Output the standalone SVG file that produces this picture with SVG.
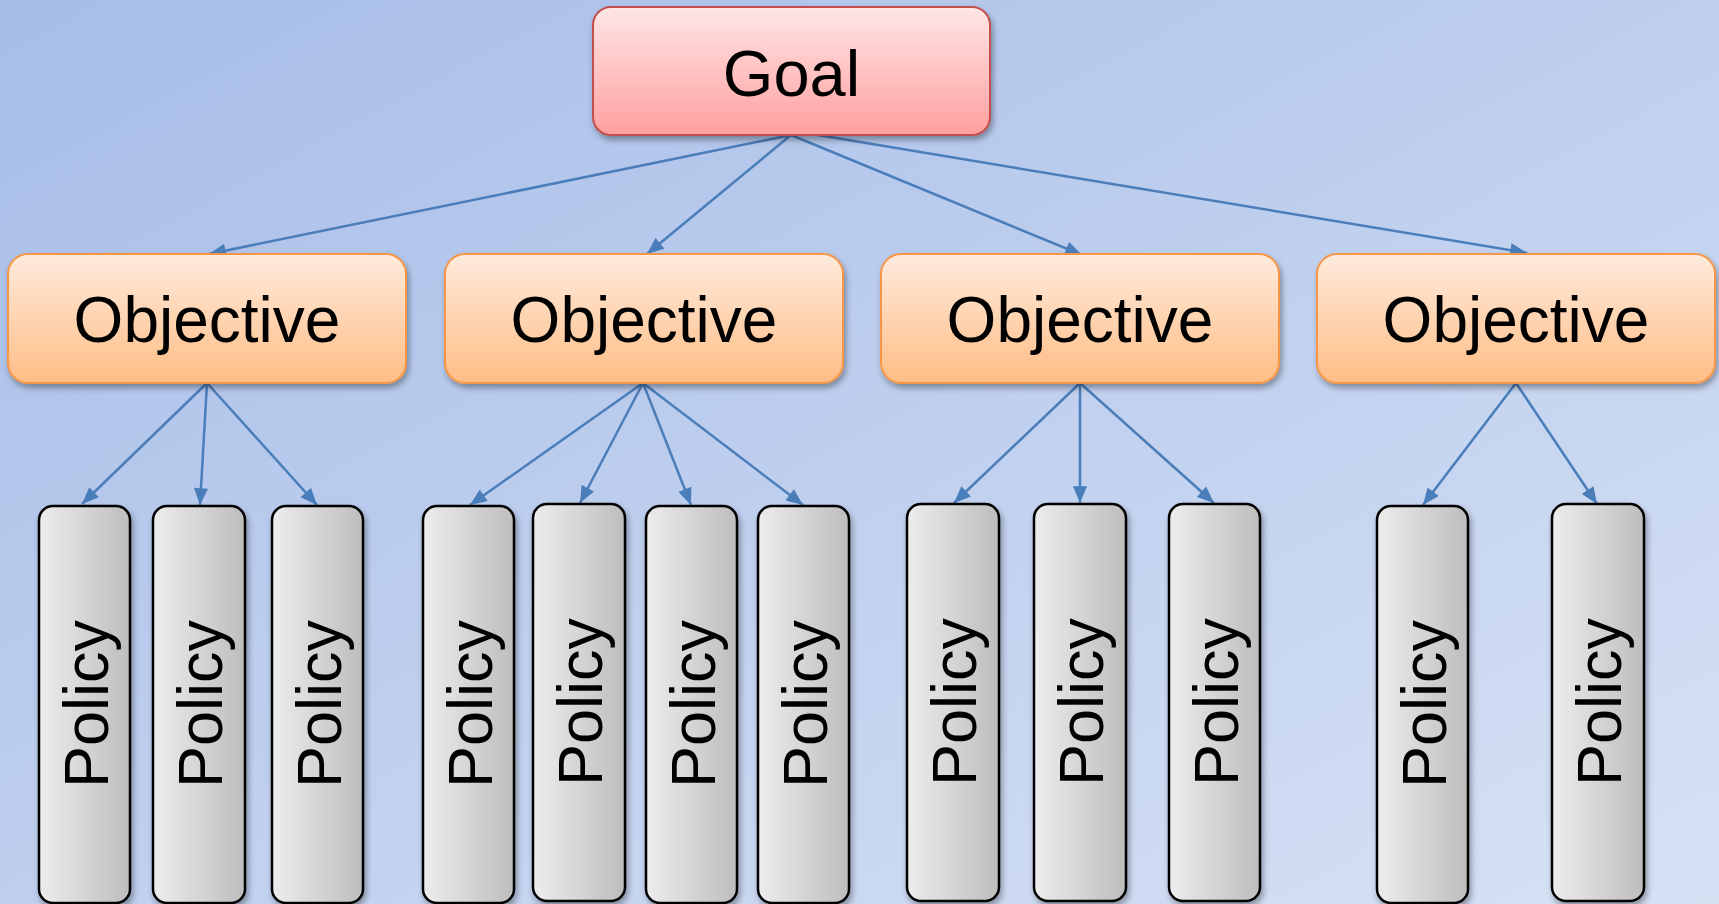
<svg xmlns="http://www.w3.org/2000/svg" width="1719" height="904" viewBox="0 0 1719 904">
<defs>
<linearGradient id="bg" x1="0" y1="0" x2="1" y2="1">
<stop offset="0" stop-color="#a7bde8"/>
<stop offset="1" stop-color="#d6e1f4"/>
</linearGradient>
<linearGradient id="gGoal" x1="0" y1="0" x2="0" y2="1">
<stop offset="0" stop-color="#ffe6e6"/>
<stop offset="1" stop-color="#ff9f9f"/>
</linearGradient>
<linearGradient id="gObj" x1="0" y1="0" x2="0" y2="1">
<stop offset="0" stop-color="#ffebdd"/>
<stop offset="1" stop-color="#ffbd85"/>
</linearGradient>
<linearGradient id="gPol" x1="0" y1="0" x2="1" y2="0">
<stop offset="0" stop-color="#ededed"/>
<stop offset="1" stop-color="#bdbdbd"/>
</linearGradient>
<filter id="sh" x="-10%" y="-10%" width="125%" height="130%">
<feGaussianBlur in="SourceAlpha" stdDeviation="3"/>
<feOffset dx="2" dy="4" result="b"/>
<feComponentTransfer><feFuncA type="linear" slope="0.35"/></feComponentTransfer>
<feMerge><feMergeNode/><feMergeNode in="SourceGraphic"/></feMerge>
</filter>
<marker id="ah" viewBox="0 0 12 10" refX="12" refY="5" markerWidth="18" markerHeight="14" markerUnits="userSpaceOnUse" orient="auto">
<path d="M0,0 L12,5 L0,10 z" fill="#4a7ebb"/>
</marker>
</defs>
<style>
.goal rect{fill:url(#gGoal);stroke:#c0504d;stroke-width:2}
.obj rect{fill:url(#gObj);stroke:#f79646;stroke-width:2}
.pol rect{fill:url(#gPol);stroke:#000;stroke-width:2.5}
text{font-family:"Liberation Sans",Arial,sans-serif;fill:#000;text-anchor:middle}
.big{font-size:65px}
.mid{font-size:64px}
.pt{font-size:63px}
.conn line{stroke:#4a7ebb;stroke-width:2.5;marker-end:url(#ah)}
</style>
<rect width="1719" height="904" fill="url(#bg)"/>

<g id="connectors" class="conn">
<line x1="791" y1="135" x2="209" y2="254"/>
<line x1="791" y1="135" x2="647" y2="254"/>
<line x1="791" y1="135" x2="1082" y2="255"/>
<line x1="806" y1="133" x2="1527" y2="253"/>
<line x1="207" y1="383" x2="82" y2="504"/>
<line x1="207" y1="383" x2="200" y2="505"/>
<line x1="207" y1="383" x2="317" y2="505"/>
<line x1="643" y1="383" x2="470" y2="505"/>
<line x1="643" y1="383" x2="580" y2="503"/>
<line x1="643" y1="383" x2="691" y2="505"/>
<line x1="643" y1="383" x2="803" y2="505"/>
<line x1="1080" y1="383" x2="954" y2="503"/>
<line x1="1080" y1="383" x2="1080" y2="503"/>
<line x1="1080" y1="383" x2="1214" y2="503"/>
<line x1="1516" y1="383" x2="1423" y2="505"/>
<line x1="1516" y1="383" x2="1597" y2="504"/>
</g>

<g id="goal" class="goal" filter="url(#sh)">
<rect x="593" y="7" width="397" height="128" rx="18"/>
<text class="big" x="791.5" y="96">Goal</text>
</g>

<g id="obj1" class="obj" filter="url(#sh)"><rect x="8" y="254" width="398" height="129" rx="20"/><text class="mid" x="207" y="342">Objective</text></g>
<g id="obj2" class="obj" filter="url(#sh)"><rect x="445" y="254" width="398" height="129" rx="20"/><text class="mid" x="644" y="342">Objective</text></g>
<g id="obj3" class="obj" filter="url(#sh)"><rect x="881" y="254" width="398" height="129" rx="20"/><text class="mid" x="1080" y="342">Objective</text></g>
<g id="obj4" class="obj" filter="url(#sh)"><rect x="1317" y="254" width="398" height="129" rx="20"/><text class="mid" x="1516" y="342">Objective</text></g>

<g id="pol1-1" class="pol" filter="url(#sh)"><rect x="39" y="506" width="91" height="397" rx="14"/><text class="pt" transform="translate(107.5,704) rotate(-90)">Policy</text></g>
<g id="pol1-2" class="pol" filter="url(#sh)"><rect x="153" y="506" width="92" height="397" rx="14"/><text class="pt" transform="translate(222,704) rotate(-90)">Policy</text></g>
<g id="pol1-3" class="pol" filter="url(#sh)"><rect x="272" y="506" width="91" height="397" rx="14"/><text class="pt" transform="translate(340.5,704) rotate(-90)">Policy</text></g>

<g id="pol2-1" class="pol" filter="url(#sh)"><rect x="423" y="506" width="91" height="397" rx="14"/><text class="pt" transform="translate(491.5,704) rotate(-90)">Policy</text></g>
<g id="pol2-2" class="pol" filter="url(#sh)"><rect x="533" y="504" width="92" height="397" rx="14"/><text class="pt" transform="translate(602,702) rotate(-90)">Policy</text></g>
<g id="pol2-3" class="pol" filter="url(#sh)"><rect x="646" y="506" width="91" height="397" rx="14"/><text class="pt" transform="translate(714.5,704) rotate(-90)">Policy</text></g>
<g id="pol2-4" class="pol" filter="url(#sh)"><rect x="758" y="506" width="91" height="397" rx="14"/><text class="pt" transform="translate(826.5,704) rotate(-90)">Policy</text></g>

<g id="pol3-1" class="pol" filter="url(#sh)"><rect x="907" y="504" width="92" height="397" rx="14"/><text class="pt" transform="translate(976,702) rotate(-90)">Policy</text></g>
<g id="pol3-2" class="pol" filter="url(#sh)"><rect x="1034" y="504" width="92" height="397" rx="14"/><text class="pt" transform="translate(1103,702) rotate(-90)">Policy</text></g>
<g id="pol3-3" class="pol" filter="url(#sh)"><rect x="1169" y="504" width="91" height="397" rx="14"/><text class="pt" transform="translate(1237.5,702) rotate(-90)">Policy</text></g>

<g id="pol4-1" class="pol" filter="url(#sh)"><rect x="1377" y="506" width="91" height="397" rx="14"/><text class="pt" transform="translate(1445.5,704) rotate(-90)">Policy</text></g>
<g id="pol4-2" class="pol" filter="url(#sh)"><rect x="1552" y="504" width="92" height="397" rx="14"/><text class="pt" transform="translate(1621,702) rotate(-90)">Policy</text></g>
</svg>
